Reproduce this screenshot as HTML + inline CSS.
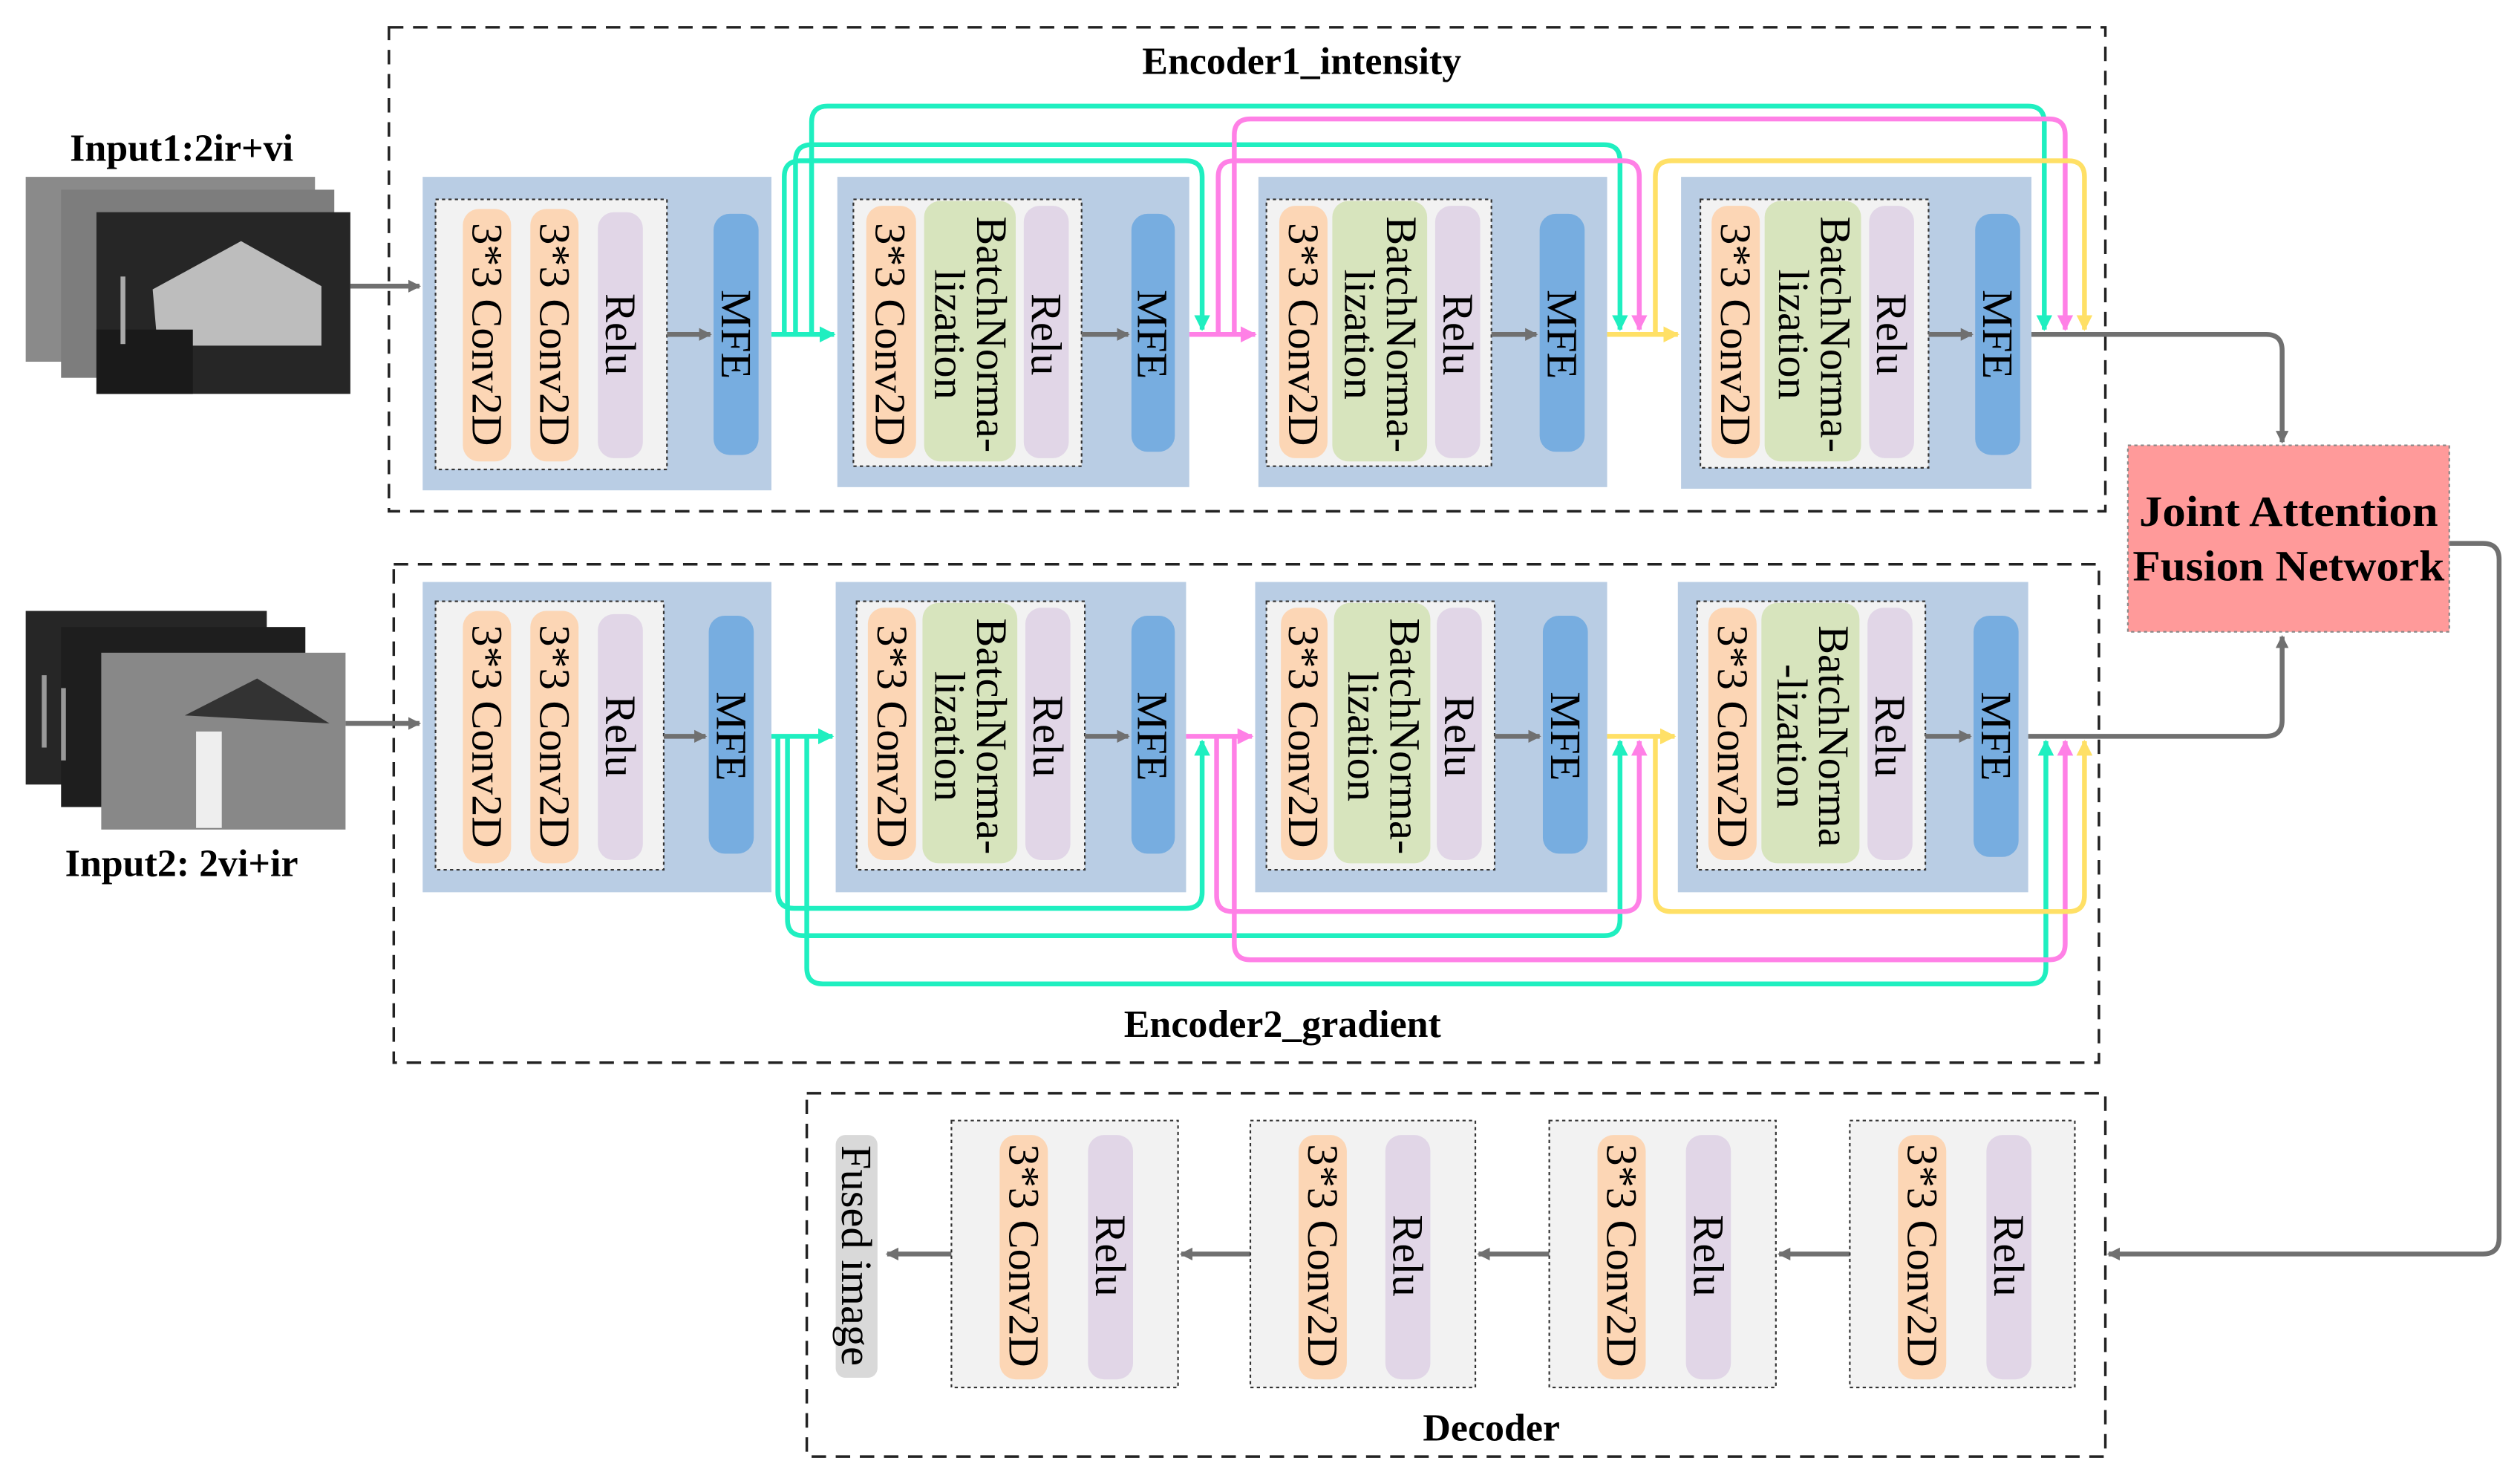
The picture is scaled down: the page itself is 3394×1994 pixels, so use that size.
<!DOCTYPE html>
<html><head><meta charset="utf-8"><style>
html,body{margin:0;padding:0;background:#fff;}
svg{display:block;}
text{font-family:"Liberation Serif",serif;fill:#000;}
</style></head><body>
<svg width="3394" height="1994" viewBox="0 0 1568 921.2" preserveAspectRatio="none" xmlns="http://www.w3.org/2000/svg">
<defs>
<marker id="ag" markerWidth="8" markerHeight="8" refX="7" refY="4" orient="auto" markerUnits="userSpaceOnUse"><path d="M0,0 L8,4 L0,8 z" fill="#707070"/></marker>
<marker id="agr" markerWidth="10" markerHeight="10" refX="9" refY="5" orient="auto" markerUnits="userSpaceOnUse"><path d="M0,0 L10,5 L0,10 z" fill="#1fefc0"/></marker>
<marker id="apk" markerWidth="10" markerHeight="10" refX="9" refY="5" orient="auto" markerUnits="userSpaceOnUse"><path d="M0,0 L10,5 L0,10 z" fill="#ff80e6"/></marker>
<marker id="ayl" markerWidth="10" markerHeight="10" refX="9" refY="5" orient="auto" markerUnits="userSpaceOnUse"><path d="M0,0 L10,5 L0,10 z" fill="#ffe066"/></marker>
</defs>

<g>
<rect x="16" y="110" width="180" height="115" fill="#8a8a8a"/>
<rect x="38" y="118" width="170" height="117" fill="#7d7d7d"/>
<rect x="60" y="132" width="158" height="113" fill="#262626"/>
<path d="M95 180 L150 150 L200 178 L200 215 L98 215 z" fill="#bdbdbd"/>
<rect x="60" y="205" width="60" height="40" fill="#1a1a1a"/>
<rect x="75" y="172" width="3" height="42" fill="#aaa"/>
<text x="113" y="100" font-size="24" font-weight="bold" text-anchor="middle">Input1:2ir+vi</text>

<rect x="16" y="380" width="150" height="108" fill="#262626"/>
<rect x="38" y="390" width="152" height="112" fill="#1e1e1e"/>
<rect x="63" y="406" width="152" height="110" fill="#888"/>
<path d="M115 445 L160 422 L205 450 z" fill="#333"/>
<rect x="122" y="455" width="16" height="60" fill="#eee"/>
<rect x="38" y="428" width="3" height="45" fill="#999"/>
<rect x="26" y="420" width="3" height="45" fill="#999"/>
<text x="113" y="545" font-size="24" font-weight="bold" text-anchor="middle">Input2: 2vi+ir</text>
</g>

<rect x="242" y="17" width="1068" height="301" fill="none" stroke="#222" stroke-width="1.6" stroke-dasharray="9,6"/>
<text x="810" y="46" font-size="24" font-weight="bold" text-anchor="middle">Encoder1_intensity</text>
<rect x="245" y="351" width="1061" height="310" fill="none" stroke="#222" stroke-width="1.6" stroke-dasharray="9,6"/>
<text x="798" y="645" font-size="24" font-weight="bold" text-anchor="middle">Encoder2_gradient</text>
<rect x="502" y="680" width="808" height="226" fill="none" stroke="#222" stroke-width="1.6" stroke-dasharray="9,6"/>
<text x="928" y="896" font-size="24" font-weight="bold" text-anchor="middle">Decoder</text>

<g font-size="27">
<rect x="263" y="110" width="217" height="195" fill="#b9cde4"/>
<rect x="271" y="124" width="144" height="168" fill="#f2f2f2" stroke="#333" stroke-dasharray="2,2"/>
<rect x="288" y="130" width="30" height="157" rx="10" fill="#fcd6b5"/>
<rect x="330" y="130" width="30" height="157" rx="10" fill="#fcd6b5"/>
<rect x="372" y="132" width="28" height="153" rx="10" fill="#e1d6e7"/>
<rect x="444" y="133" width="28" height="150" rx="10" fill="#77ade0"/>
<text transform="translate(303,208) rotate(90)" text-anchor="middle" dy="9">3*3 Conv2D</text>
<text transform="translate(345,208) rotate(90)" text-anchor="middle" dy="9">3*3 Conv2D</text>
<text transform="translate(386,208) rotate(90)" text-anchor="middle" dy="9">Relu</text>
<text transform="translate(458,208) rotate(90)" text-anchor="middle" dy="9">MFE</text>

<rect x="521" y="110" width="219" height="193" fill="#b9cde4"/>
<rect x="531" y="124" width="142" height="166" fill="#f2f2f2" stroke="#333" stroke-dasharray="2,2"/>
<rect x="539" y="128" width="31" height="157" rx="10" fill="#fcd6b5"/>
<rect x="575" y="125" width="57" height="162" rx="10" fill="#d7e4bd"/>
<rect x="637" y="128" width="28" height="157" rx="10" fill="#e1d6e7"/>
<rect x="704" y="133" width="27" height="148" rx="10" fill="#77ade0"/>
<text transform="translate(554,208) rotate(90)" text-anchor="middle" dy="9">3*3 Conv2D</text>
<text transform="translate(603,208) rotate(90)" text-anchor="middle"><tspan x="0" dy="-5">BatchNorma-</tspan><tspan x="0" dy="26">lization</tspan></text>
<text transform="translate(651,208) rotate(90)" text-anchor="middle" dy="9">Relu</text>
<text transform="translate(717,208) rotate(90)" text-anchor="middle" dy="9">MFE</text>

<rect x="783" y="110" width="217" height="193" fill="#b9cde4"/>
<rect x="788" y="124" width="140" height="166" fill="#f2f2f2" stroke="#333" stroke-dasharray="2,2"/>
<rect x="796" y="128" width="30" height="157" rx="10" fill="#fcd6b5"/>
<rect x="829" y="125" width="59" height="162" rx="10" fill="#d7e4bd"/>
<rect x="893" y="128" width="28" height="157" rx="10" fill="#e1d6e7"/>
<rect x="958" y="133" width="28" height="148" rx="10" fill="#77ade0"/>
<text transform="translate(811,208) rotate(90)" text-anchor="middle" dy="9">3*3 Conv2D</text>
<text transform="translate(858,208) rotate(90)" text-anchor="middle"><tspan x="0" dy="-5">BatchNorma-</tspan><tspan x="0" dy="26">lization</tspan></text>
<text transform="translate(907,208) rotate(90)" text-anchor="middle" dy="9">Relu</text>
<text transform="translate(972,208) rotate(90)" text-anchor="middle" dy="9">MFE</text>

<rect x="1046" y="110" width="218" height="194" fill="#b9cde4"/>
<rect x="1058" y="124" width="142" height="167" fill="#f2f2f2" stroke="#333" stroke-dasharray="2,2"/>
<rect x="1065" y="128" width="30" height="157" rx="10" fill="#fcd6b5"/>
<rect x="1098" y="125" width="60" height="162" rx="10" fill="#d7e4bd"/>
<rect x="1163" y="128" width="28" height="157" rx="10" fill="#e1d6e7"/>
<rect x="1229" y="133" width="28" height="150" rx="10" fill="#77ade0"/>
<text transform="translate(1080,208) rotate(90)" text-anchor="middle" dy="9">3*3 Conv2D</text>
<text transform="translate(1128,208) rotate(90)" text-anchor="middle"><tspan x="0" dy="-5">BatchNorma-</tspan><tspan x="0" dy="26">lization</tspan></text>
<text transform="translate(1177,208) rotate(90)" text-anchor="middle" dy="9">Relu</text>
<text transform="translate(1243,208) rotate(90)" text-anchor="middle" dy="9">MFE</text>

<rect x="263" y="362" width="217" height="193" fill="#b9cde4"/>
<rect x="271" y="374" width="142" height="167" fill="#f2f2f2" stroke="#333" stroke-dasharray="2,2"/>
<rect x="288" y="380" width="30" height="157" rx="10" fill="#fcd6b5"/>
<rect x="330" y="380" width="30" height="157" rx="10" fill="#fcd6b5"/>
<rect x="372" y="382" width="28" height="153" rx="10" fill="#e1d6e7"/>
<rect x="441" y="383" width="28" height="148" rx="10" fill="#77ade0"/>
<text transform="translate(303,458) rotate(90)" text-anchor="middle" dy="9">3*3 Conv2D</text>
<text transform="translate(345,458) rotate(90)" text-anchor="middle" dy="9">3*3 Conv2D</text>
<text transform="translate(386,458) rotate(90)" text-anchor="middle" dy="9">Relu</text>
<text transform="translate(455,458) rotate(90)" text-anchor="middle" dy="9">MFE</text>

<rect x="520" y="362" width="218" height="193" fill="#b9cde4"/>
<rect x="533" y="374" width="142" height="167" fill="#f2f2f2" stroke="#333" stroke-dasharray="2,2"/>
<rect x="540" y="378" width="30" height="157" rx="10" fill="#fcd6b5"/>
<rect x="574" y="375" width="59" height="162" rx="10" fill="#d7e4bd"/>
<rect x="638" y="378" width="28" height="157" rx="10" fill="#e1d6e7"/>
<rect x="704" y="383" width="27" height="148" rx="10" fill="#77ade0"/>
<text transform="translate(555,458) rotate(90)" text-anchor="middle" dy="9">3*3 Conv2D</text>
<text transform="translate(603,458) rotate(90)" text-anchor="middle"><tspan x="0" dy="-5">BatchNorma-</tspan><tspan x="0" dy="26">lization</tspan></text>
<text transform="translate(652,458) rotate(90)" text-anchor="middle" dy="9">Relu</text>
<text transform="translate(717,458) rotate(90)" text-anchor="middle" dy="9">MFE</text>

<rect x="781" y="362" width="219" height="193" fill="#b9cde4"/>
<rect x="788" y="374" width="142" height="167" fill="#f2f2f2" stroke="#333" stroke-dasharray="2,2"/>
<rect x="797" y="378" width="29" height="157" rx="10" fill="#fcd6b5"/>
<rect x="830" y="375" width="60" height="162" rx="10" fill="#d7e4bd"/>
<rect x="894" y="378" width="28" height="157" rx="10" fill="#e1d6e7"/>
<rect x="960" y="383" width="28" height="148" rx="10" fill="#77ade0"/>
<text transform="translate(811,458) rotate(90)" text-anchor="middle" dy="9">3*3 Conv2D</text>
<text transform="translate(860,458) rotate(90)" text-anchor="middle"><tspan x="0" dy="-5">BatchNorma-</tspan><tspan x="0" dy="26">lization</tspan></text>
<text transform="translate(908,458) rotate(90)" text-anchor="middle" dy="9">Relu</text>
<text transform="translate(974,458) rotate(90)" text-anchor="middle" dy="9">MFE</text>

<rect x="1044" y="362" width="218" height="193" fill="#b9cde4"/>
<rect x="1056" y="374" width="142" height="167" fill="#f2f2f2" stroke="#333" stroke-dasharray="2,2"/>
<rect x="1063" y="378" width="30" height="157" rx="10" fill="#fcd6b5"/>
<rect x="1096" y="375" width="61" height="162" rx="10" fill="#d7e4bd"/>
<rect x="1162" y="378" width="28" height="157" rx="10" fill="#e1d6e7"/>
<rect x="1228" y="383" width="28" height="150" rx="10" fill="#77ade0"/>
<text transform="translate(1078,458) rotate(90)" text-anchor="middle" dy="9">3*3 Conv2D</text>
<text transform="translate(1127,458) rotate(90)" text-anchor="middle"><tspan x="0" dy="-5">BatchNorma</tspan><tspan x="0" dy="26">-lization</tspan></text>
<text transform="translate(1176,458) rotate(90)" text-anchor="middle" dy="9">Relu</text>
<text transform="translate(1242,458) rotate(90)" text-anchor="middle" dy="9">MFE</text>
</g>

<g stroke="#707070" stroke-width="3" fill="none" marker-end="url(#ag)">
<path d="M218 178 H261"/>
<path d="M215 450 H261"/>
<path d="M415 208 H442"/><path d="M673 208 H702"/><path d="M928 208 H956"/><path d="M1200 208 H1227"/>
<path d="M413 458 H439"/><path d="M675 458 H702"/><path d="M930 458 H958"/><path d="M1198 458 H1226"/>
<path d="M1264 208 H1410 Q1420 208 1420 218 V275"/>
<path d="M1262 458 H1410 Q1420 458 1420 448 V396"/>
<path d="M1524 338 H1545 Q1555 338 1555 348 V770 Q1555 780 1545 780 H1312"/>
<path d="M1151 780 H1107"/><path d="M964 780 H920"/><path d="M778 780 H735"/><path d="M592 780 H552"/>
</g>

<g fill="none" stroke-width="3">
<path d="M480 208 H519" stroke="#1fefc0" marker-end="url(#agr)"/>
<path d="M740 208 H781" stroke="#ff80e6" marker-end="url(#apk)"/>
<path d="M1000 208 H1044" stroke="#ffe066" marker-end="url(#ayl)"/>
<path d="M505 208 V76 Q505 66 515 66 H1262 Q1272 66 1272 76 V205" stroke="#1fefc0" marker-end="url(#agr)"/>
<path d="M495 208 V100 Q495 90 505 90 H998 Q1008 90 1008 100 V205" stroke="#1fefc0" marker-end="url(#agr)"/>
<path d="M488 208 V110 Q488 100 498 100 H738 Q748 100 748 110 V205" stroke="#1fefc0" marker-end="url(#agr)"/>
<path d="M768 208 V84 Q768 74 778 74 H1275 Q1285 74 1285 84 V205" stroke="#ff80e6" marker-end="url(#apk)"/>
<path d="M758 208 V110 Q758 100 768 100 H1010 Q1020 100 1020 110 V205" stroke="#ff80e6" marker-end="url(#apk)"/>
<path d="M1030 208 V110 Q1030 100 1040 100 H1287 Q1297 100 1297 110 V205" stroke="#ffe066" marker-end="url(#ayl)"/>

<path d="M480 458 H518" stroke="#1fefc0" marker-end="url(#agr)"/>
<path d="M738 458 H779" stroke="#ff80e6" marker-end="url(#apk)"/>
<path d="M1000 458 H1042" stroke="#ffe066" marker-end="url(#ayl)"/>
<path d="M502 458 V602 Q502 612 512 612 H1263 Q1273 612 1273 602 V461" stroke="#1fefc0" marker-end="url(#agr)"/>
<path d="M490 458 V572 Q490 582 500 582 H998 Q1008 582 1008 572 V461" stroke="#1fefc0" marker-end="url(#agr)"/>
<path d="M484 458 V555 Q484 565 494 565 H738 Q748 565 748 555 V461" stroke="#1fefc0" marker-end="url(#agr)"/>
<path d="M768 458 V587 Q768 597 778 597 H1275 Q1285 597 1285 587 V461" stroke="#ff80e6" marker-end="url(#apk)"/>
<path d="M757 458 V557 Q757 567 767 567 H1010 Q1020 567 1020 557 V461" stroke="#ff80e6" marker-end="url(#apk)"/>
<path d="M1030 458 V557 Q1030 567 1040 567 H1287 Q1297 567 1297 557 V461" stroke="#ffe066" marker-end="url(#ayl)"/>
</g>

<rect x="1324" y="277" width="200" height="116" fill="#ff9a9a" stroke="#888" stroke-dasharray="2,2"/>
<text x="1424" y="327" font-size="27" font-weight="bold" text-anchor="middle" textLength="186" lengthAdjust="spacingAndGlyphs">Joint Attention</text>
<text x="1424" y="361" font-size="27" font-weight="bold" text-anchor="middle" textLength="194" lengthAdjust="spacingAndGlyphs">Fusion Network</text>

<g font-size="27">
<rect x="520" y="706" width="26" height="151" rx="6" fill="#d9d9d9"/>
<text transform="translate(533,781) rotate(90)" text-anchor="middle" dy="9">Fused image</text>

<rect x="592" y="697" width="141" height="166" fill="#f2f2f2" stroke="#333" stroke-dasharray="2,2"/>
<rect x="622" y="706" width="30" height="152" rx="10" fill="#fcd6b5"/>
<rect x="677" y="706" width="28" height="152" rx="10" fill="#e1d6e7"/>
<text transform="translate(637,781) rotate(90)" text-anchor="middle" dy="9">3*3 Conv2D</text>
<text transform="translate(691,781) rotate(90)" text-anchor="middle" dy="9">Relu</text>

<rect x="778" y="697" width="140" height="166" fill="#f2f2f2" stroke="#333" stroke-dasharray="2,2"/>
<rect x="808" y="706" width="30" height="152" rx="10" fill="#fcd6b5"/>
<rect x="862" y="706" width="28" height="152" rx="10" fill="#e1d6e7"/>
<text transform="translate(823,781) rotate(90)" text-anchor="middle" dy="9">3*3 Conv2D</text>
<text transform="translate(876,781) rotate(90)" text-anchor="middle" dy="9">Relu</text>

<rect x="964" y="697" width="141" height="166" fill="#f2f2f2" stroke="#333" stroke-dasharray="2,2"/>
<rect x="994" y="706" width="30" height="152" rx="10" fill="#fcd6b5"/>
<rect x="1049" y="706" width="28" height="152" rx="10" fill="#e1d6e7"/>
<text transform="translate(1009,781) rotate(90)" text-anchor="middle" dy="9">3*3 Conv2D</text>
<text transform="translate(1063,781) rotate(90)" text-anchor="middle" dy="9">Relu</text>

<rect x="1151" y="697" width="140" height="166" fill="#f2f2f2" stroke="#333" stroke-dasharray="2,2"/>
<rect x="1181" y="706" width="30" height="152" rx="10" fill="#fcd6b5"/>
<rect x="1236" y="706" width="28" height="152" rx="10" fill="#e1d6e7"/>
<text transform="translate(1196,781) rotate(90)" text-anchor="middle" dy="9">3*3 Conv2D</text>
<text transform="translate(1250,781) rotate(90)" text-anchor="middle" dy="9">Relu</text>
</g>
</svg>
</body></html>
